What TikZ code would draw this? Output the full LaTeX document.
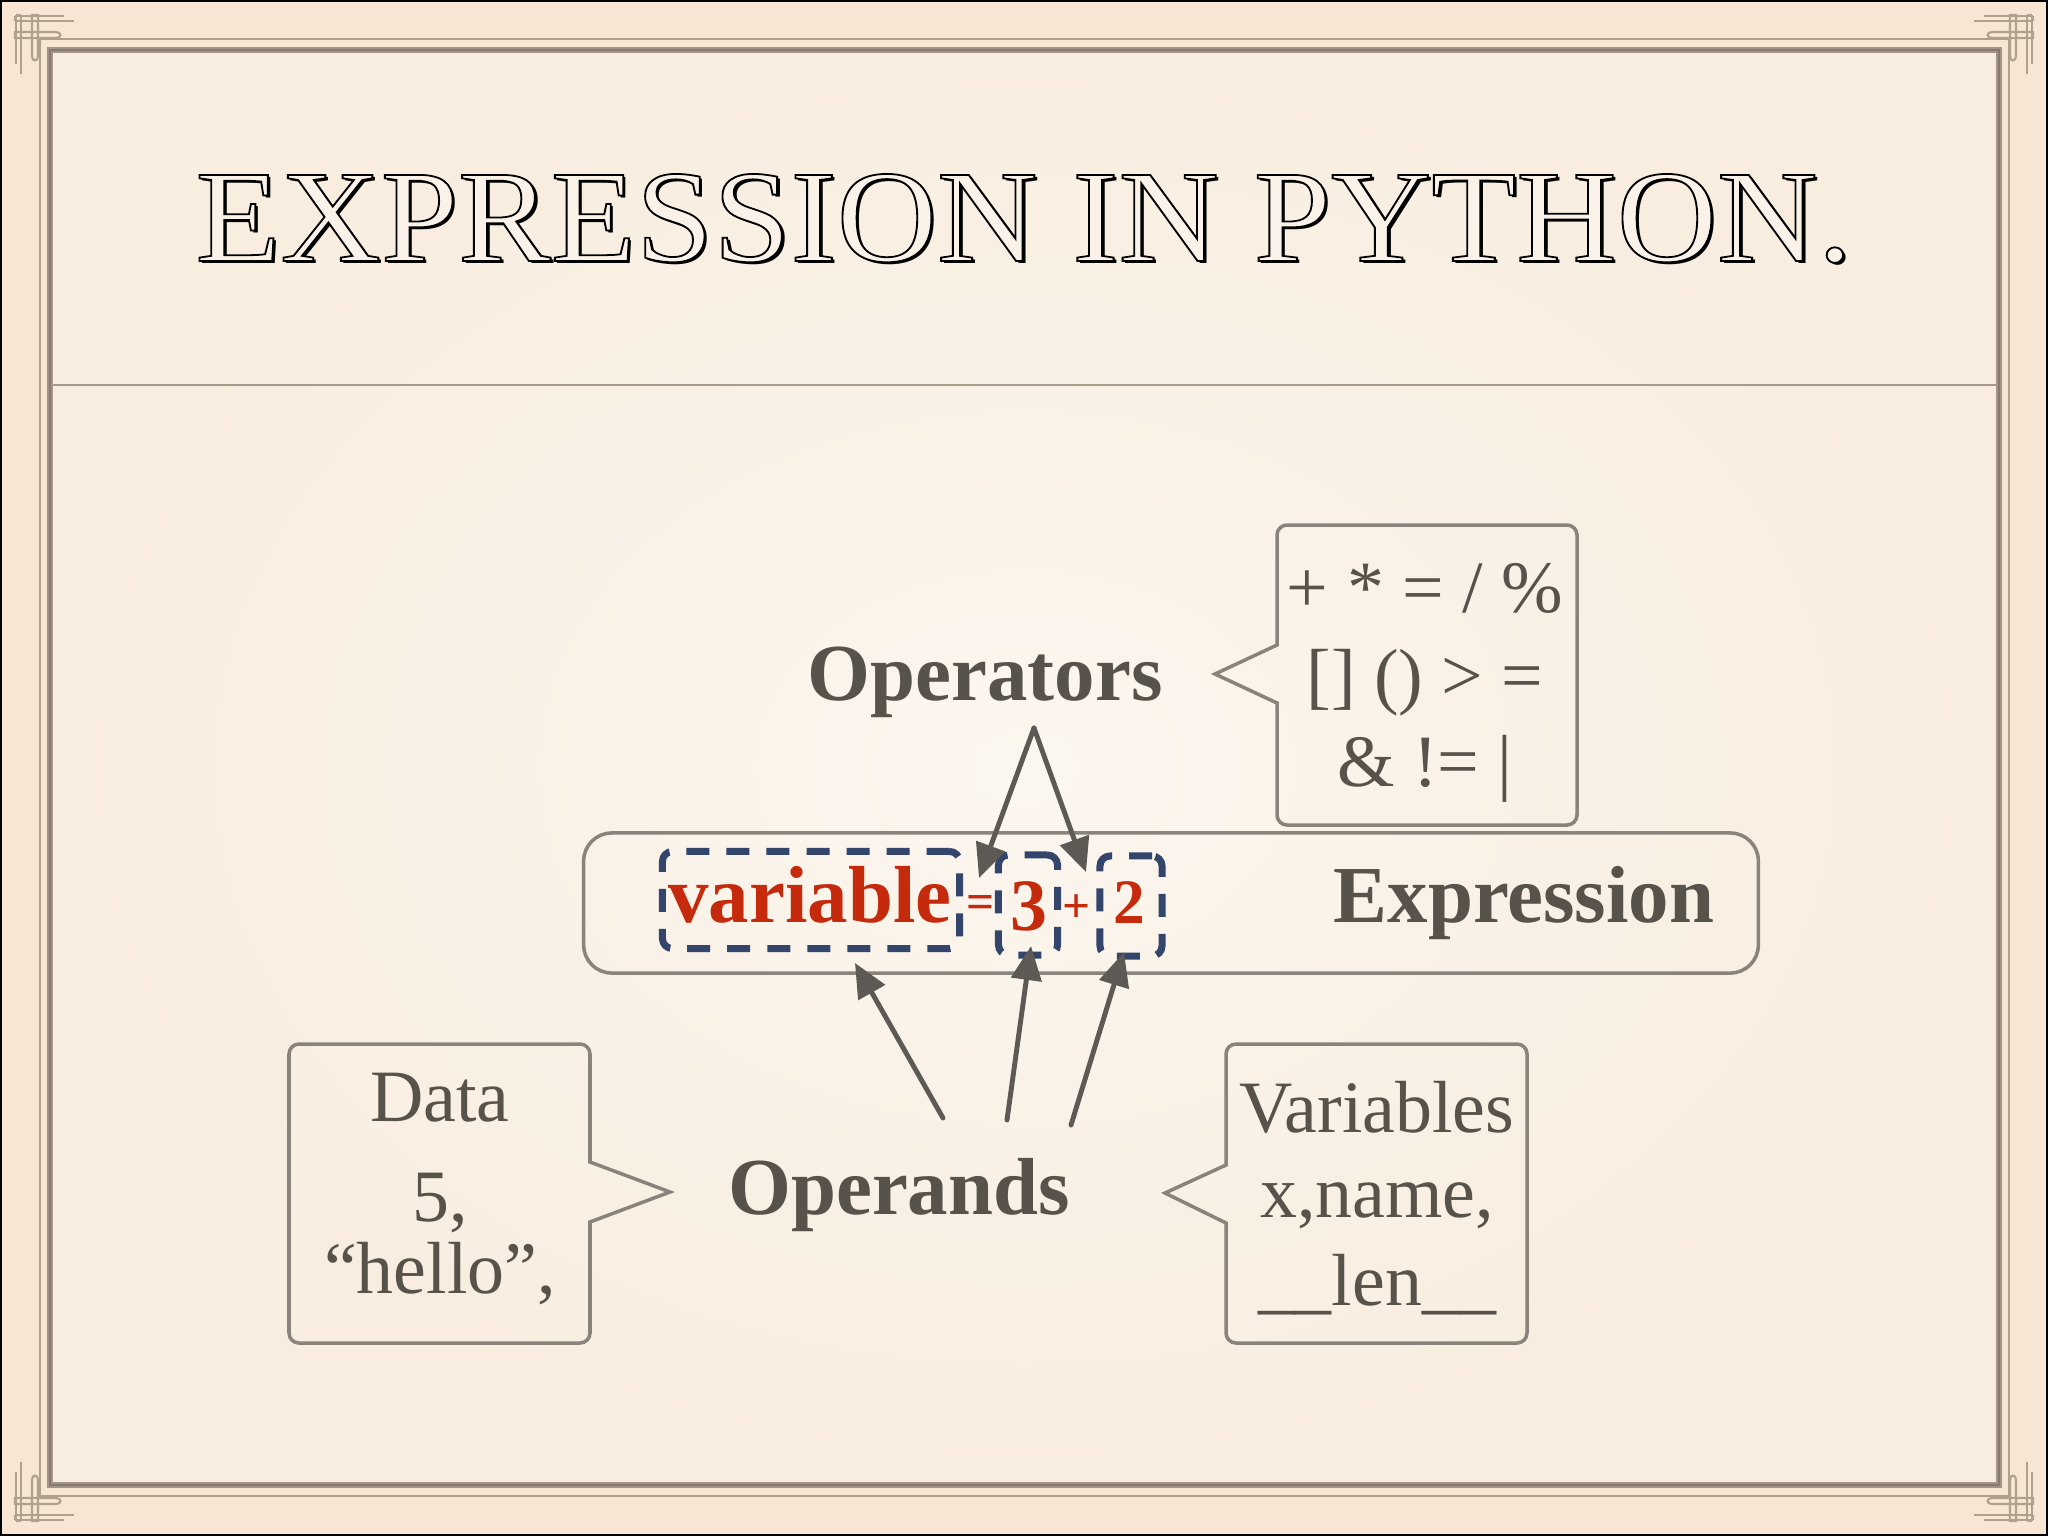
\documentclass[tikz,border=0pt]{standalone}
\usepackage{fontspec}
\setmainfont{Liberation Serif}
\usetikzlibrary{arrows.meta}
\definecolor{pagebg}{HTML}{F6E6D3}
\definecolor{innerA}{HTML}{FBF6EF}
\definecolor{innerB}{HTML}{F8EDDF}
\definecolor{framethick}{HTML}{A39585}
\definecolor{framedark}{HTML}{877A6C}
\definecolor{framethin}{HTML}{B0A18F}
\definecolor{sepline}{HTML}{A99B8B}
\definecolor{txtgray}{HTML}{57524A}
\definecolor{boxline}{HTML}{8A837B}
\definecolor{exred}{HTML}{C62A0D}
\definecolor{dashblue}{HTML}{33456B}
\definecolor{arrowgray}{HTML}{5D5954}
\definecolor{titlefill}{HTML}{FAF2E8}
\newcommand\titleoutline[1]{\special{pdf:literal direct 2 Tr 0.5 w 0 0 0 RG}#1\special{pdf:literal direct 0 Tr}}
\newcommand\cornerknot{%
  \draw[knot] (15,16) -- (64,16) (15,21) -- (74,21) (15,16) -- (15,21);
  \draw[knot] (15,32) -- (56,32) .. controls (62,32) and (62,38) .. (56,38) -- (15,38) -- cycle;
  \draw[knot] (16,15) -- (16,64) (21,15) -- (21,74) (16,15) -- (21,15);
  \draw[knot] (32,15) -- (32,56) .. controls (32,62) and (38,62) .. (38,56) -- (38,15) -- cycle;
}
\begin{document}
\begin{tikzpicture}[x=0.01cm,y=-0.01cm,
  knot/.style={draw=framethin, line width=0.6pt},
  lbl/.style={font=\fontsize{23pt}{27pt}\selectfont\bfseries, text=txtgray, inner sep=0pt, anchor=base},
  calltxt/.style={font=\fontsize{21pt}{25pt}\selectfont, text=txtgray, inner sep=0pt, anchor=base},
  callout/.style={draw=boxline, line width=1pt, line join=miter},
  dbox/.style={draw=dashblue, line width=0.07cm, dash pattern=on 0.23cm off 0.17cm, rounded corners=0.1cm, inner sep=0pt},
  redbig/.style={font=\fontsize{23pt}{27pt}\selectfont\bfseries, text=exred, inner sep=0pt, anchor=base},
  redsmall/.style={font=\fontsize{14pt}{16pt}\selectfont\bfseries, text=exred, inner sep=0pt, anchor=base},
  chalk/.style={draw=arrowgray, line width=1.4pt, line cap=round, -{Triangle[length=0.34cm,width=0.3cm]}},
  exbox/.style={draw=boxline, line width=1pt, rounded corners=0.28cm, inner sep=0pt}
]
\useasboundingbox (0,0) rectangle (2048,1536);
% background and frame
\fill[pagebg] (0,0) rectangle (2048,1536);
\shade[inner color=innerA, outer color=innerB] (50,50) rectangle (1999,1485);
\draw[framethin, line width=0.7pt] (40,39) rectangle (2009,1496);
\draw[framethick, line width=1.5pt] (50,50) rectangle (1999,1485);
\draw[framedark, line width=0.5pt] (50,50) rectangle (1999,1485);
\draw[black, line width=1.2pt] (0,0) rectangle (2048,1536);
\begin{scope}\cornerknot\end{scope}
\begin{scope}[shift={(2048,0)}, xscale=-1]\cornerknot\end{scope}
\begin{scope}[shift={(0,1536)}, yscale=-1]\cornerknot\end{scope}
\begin{scope}[shift={(2048,1536)}, xscale=-1, yscale=-1]\cornerknot\end{scope}
% title
\node[anchor=base, inner sep=0pt, text=black] (titleshadow) at (1027,263)
  {\resizebox{16.56cm}{0.87cm}{\fontsize{37pt}{40pt}\selectfont EXPRESSION IN PYTHON.}};
\node[anchor=base, inner sep=0pt] (title) at (1024,261)
  {\resizebox{16.56cm}{0.87cm}{\fontsize{37pt}{40pt}\selectfont\color{titlefill}\titleoutline{EXPRESSION IN PYTHON.}}};
\draw[sepline, line width=0.45pt] (51,385) -- (1998,385);
% operators callout
\draw[callout] (1277,703) [rounded corners=0.1cm] -- (1277,825) -- (1577,825) -- (1577,525) -- (1277,525) [sharp corners] -- (1277,645) -- (1215,674) -- cycle;
\node[calltxt] (opsA) at (1425,612) {+ * = / \%};
\node[calltxt] (opsB) at (1425,700) {[] () > =};
\node[calltxt] (opsC) at (1425,786) {\& != |};
% data callout
\draw[callout] (590,1162) [rounded corners=0.1cm] -- (590,1044) -- (289,1044) -- (289,1343) -- (590,1343) [sharp corners] -- (590,1222) -- (670,1192) -- cycle;
\node[calltxt] (dataA) at (440,1121) {Data};
\node[calltxt] (dataB) at (440,1221) {5,};
\node[calltxt] (dataC) at (440,1293) {“hello”,};
% variables callout
\draw[callout] (1226,1223) [rounded corners=0.1cm] -- (1226,1343) -- (1527,1343) -- (1527,1044) -- (1226,1044) [sharp corners] -- (1226,1165) -- (1165,1193) -- cycle;
\node[calltxt] (varsA) at (1377,1132) {Variables};
\node[calltxt] (varsB) at (1377,1217) {x,name,};
\node[calltxt] (varsC) at (1377,1305) {\_\_len\_\_};
% expression
\node[exbox, minimum width=11.74cm, minimum height=1.40cm] (exprbox) at (1171,903) {};
\node[dbox, minimum width=2.97cm, minimum height=0.97cm] (dbvar) at (811,900) {};
\node[dbox, minimum width=0.59cm, minimum height=1.0cm] (dbthree) at (1028,905) {};
\node[dbox, minimum width=0.62cm, minimum height=1.0cm] (dbtwo) at (1131,906) {};
\node[redbig] (varword) at (810,922) {variable};
\node[redsmall] (eqsign) at (981,918) {=};
\node[redbig, font=\fontsize{21pt}{25pt}\selectfont\bfseries] (three) at (1029,930) {3};
\node[redsmall] (plussign) at (1077,922) {+};
\node[redbig, font=\fontsize{18pt}{22pt}\selectfont\bfseries] (two) at (1129,923) {2};
\node[lbl] (exprlbl) at (1524,922) {Expression};
\node[lbl] (operators) at (985,700) {Operators};
\node[lbl] (operands) at (899,1214) {Operands};
% arrows
\coordinate (apex) at (1034,728);
\coordinate (tipEq) at (979,878);
\coordinate (tipPlus) at (1086,872);
\coordinate (tailA) at (943,1118);
\coordinate (tailB) at (1007,1120);
\coordinate (tailC) at (1071,1125);
\coordinate (tipVar) at (855,963);
\coordinate (tipThree) at (1031,946);
\coordinate (tipTwo) at (1124,952);
\draw[chalk] (apex) -- (tipEq);
\draw[chalk] (apex) -- (tipPlus);
\draw[chalk] (tailA) -- (tipVar);
\draw[chalk] (tailB) -- (tipThree);
\draw[chalk] (tailC) -- (tipTwo);
\end{tikzpicture}
\end{document}
